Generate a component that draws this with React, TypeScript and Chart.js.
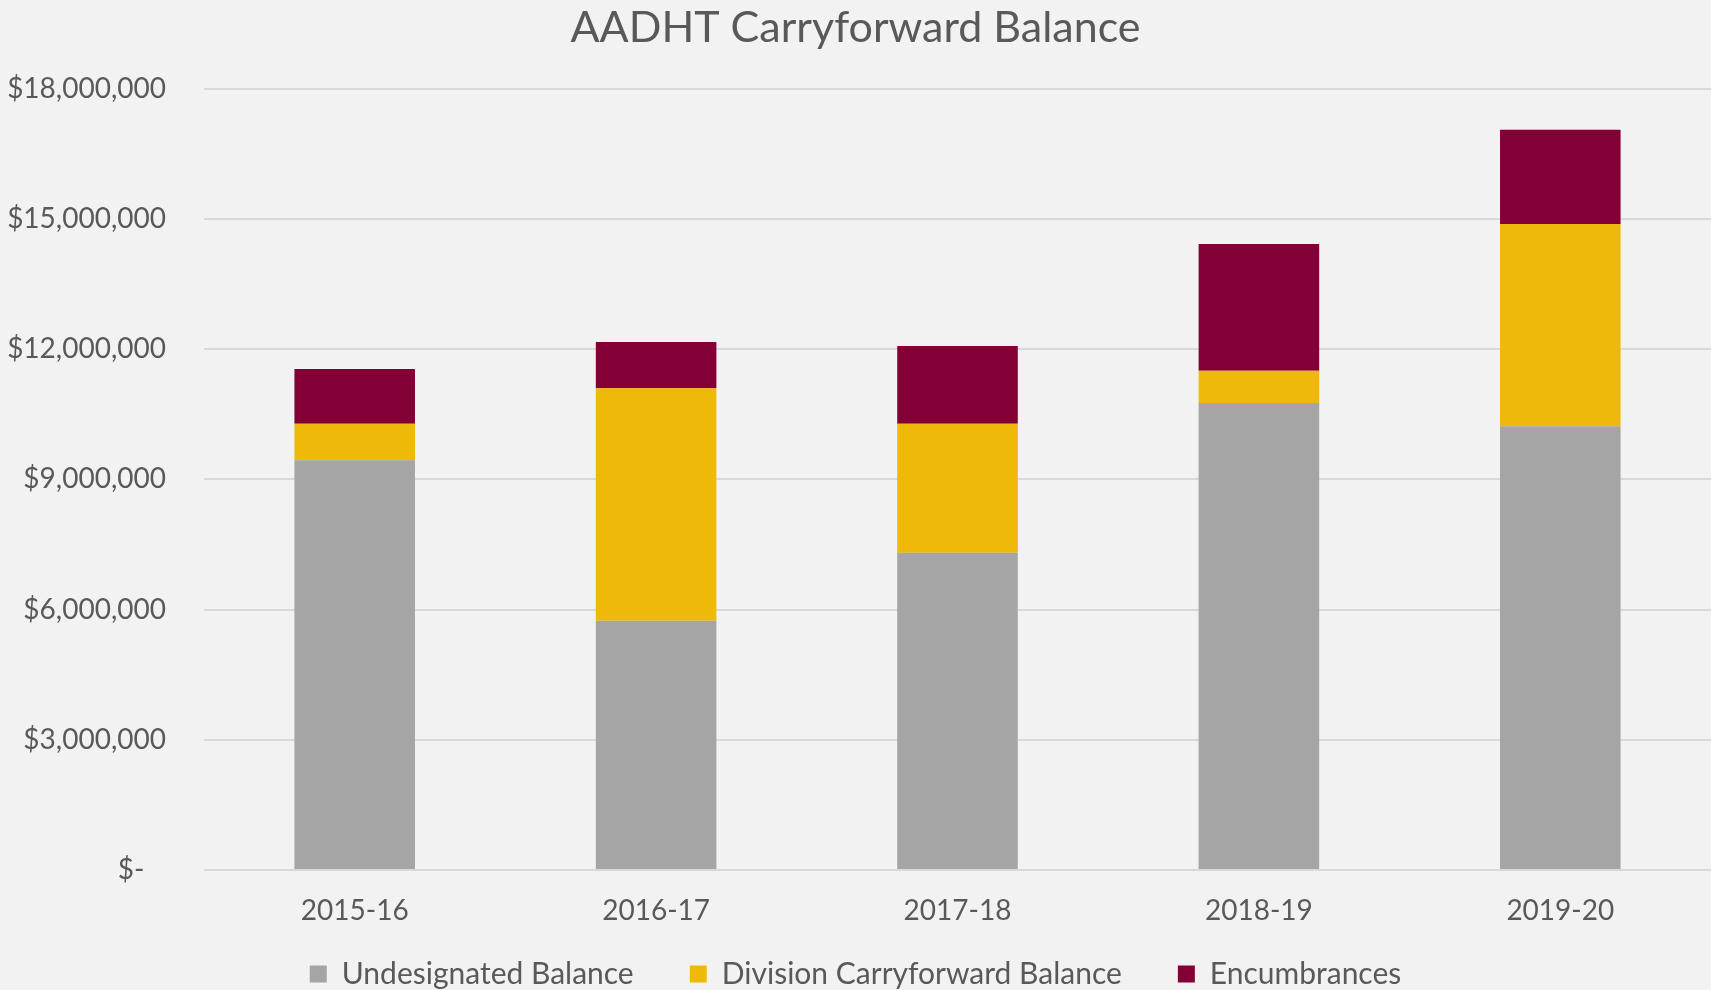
import React, { useEffect, useRef } from "react";
import { Chart, registerables } from "chart.js";

Chart.register(...registerables);

const categories = ["2015-16", "2016-17", "2017-18", "2018-19", "2019-20"];
const undesignated = [9440000, 5740000, 7310000, 10760000, 10220000];
const division = [840000, 5360000, 2970000, 740000, 4660000];
const encumbrances = [1260000, 1060000, 1790000, 2920000, 2170000];
const seriesNames = ["Undesignated Balance", "Division Carryforward Balance", "Encumbrances"];
const yTicks = [0, 3000000, 6000000, 9000000, 12000000, 15000000, 18000000];

const FONT = "Lato, 'Open Sans', sans-serif";
const TEXT = "#595959";

export default function App() {
  const ref = useRef<HTMLCanvasElement | null>(null);
  useEffect(() => {
    document.body.style.margin = "0";
    document.body.style.background = "#F2F2F2";
    const ctx = ref.current!;
    const chart = new Chart(ctx, {
      type: "bar",
      data: {
        labels: categories,
        datasets: [
          { label: seriesNames[0], data: undesignated, backgroundColor: "#A5A5A5" },
          { label: seriesNames[1], data: division, backgroundColor: "#EFB909" },
          { label: seriesNames[2], data: encumbrances, backgroundColor: "#820035" },
        ],
      },
      options: {
        animation: false,
        responsive: true,
        maintainAspectRatio: false,
        layout: { padding: { left: 0, right: 0, top: 0, bottom: -9 } },
        datasets: { bar: { barPercentage: 0.4, categoryPercentage: 1 } },
        plugins: {
          title: {
            display: true,
            text: "AADHT Carryforward Balance",
            color: TEXT,
            font: { family: FONT, size: 43, weight: "normal" },
            padding: { top: 2, bottom: 35 },
          },
          legend: {
            position: "bottom",
            labels: {
              color: TEXT,
              font: { family: FONT, size: 30 },
              boxWidth: 17,
              boxHeight: 17,
              padding: 10,
              generateLabels: (c: any) => {
                const items = Chart.defaults.plugins.legend.labels.generateLabels(c);
                return items.map((it: any, i: number) => ({
                  ...it,
                  text: i < items.length - 1 ? it.text + "\u00A0".repeat(6) : it.text,
                  lineWidth: 0,
                }));
              },
            },
          },
          tooltip: { enabled: false },
        },
        scales: {
          x: {
            stacked: true,
            grid: { display: false, drawTicks: false },
            border: { display: false },
            ticks: { color: TEXT, font: { family: FONT, size: 28 }, padding: 24 },
            afterFit: (s: any) => { s.height = 79; },
          },
          y: {
            stacked: true,
            min: 0,
            max: 18000000,
            afterBuildTicks: (s: any) => { s.ticks = yTicks.map((v) => ({ value: v })); },
            grid: { color: "#D9D9D9", lineWidth: 2, drawTicks: false },
            border: { display: false },
            ticks: {
              color: TEXT,
              font: { family: FONT, size: 28 },
              padding: 38,
              callback: (v: any) =>
                Number(v) === 0 ? "$-\u00A0\u00A0\u00A0" : "$" + Number(v).toLocaleString("en-US"),
            },
            afterFit: (s: any) => { s.width = 204; },
          },
        },
      },
    });
    return () => chart.destroy();
  }, []);
  return (
    <div style={{ width: 1711, height: 990, position: "relative", background: "#F2F2F2" }}>
      <canvas ref={ref} />
    </div>
  );
}
